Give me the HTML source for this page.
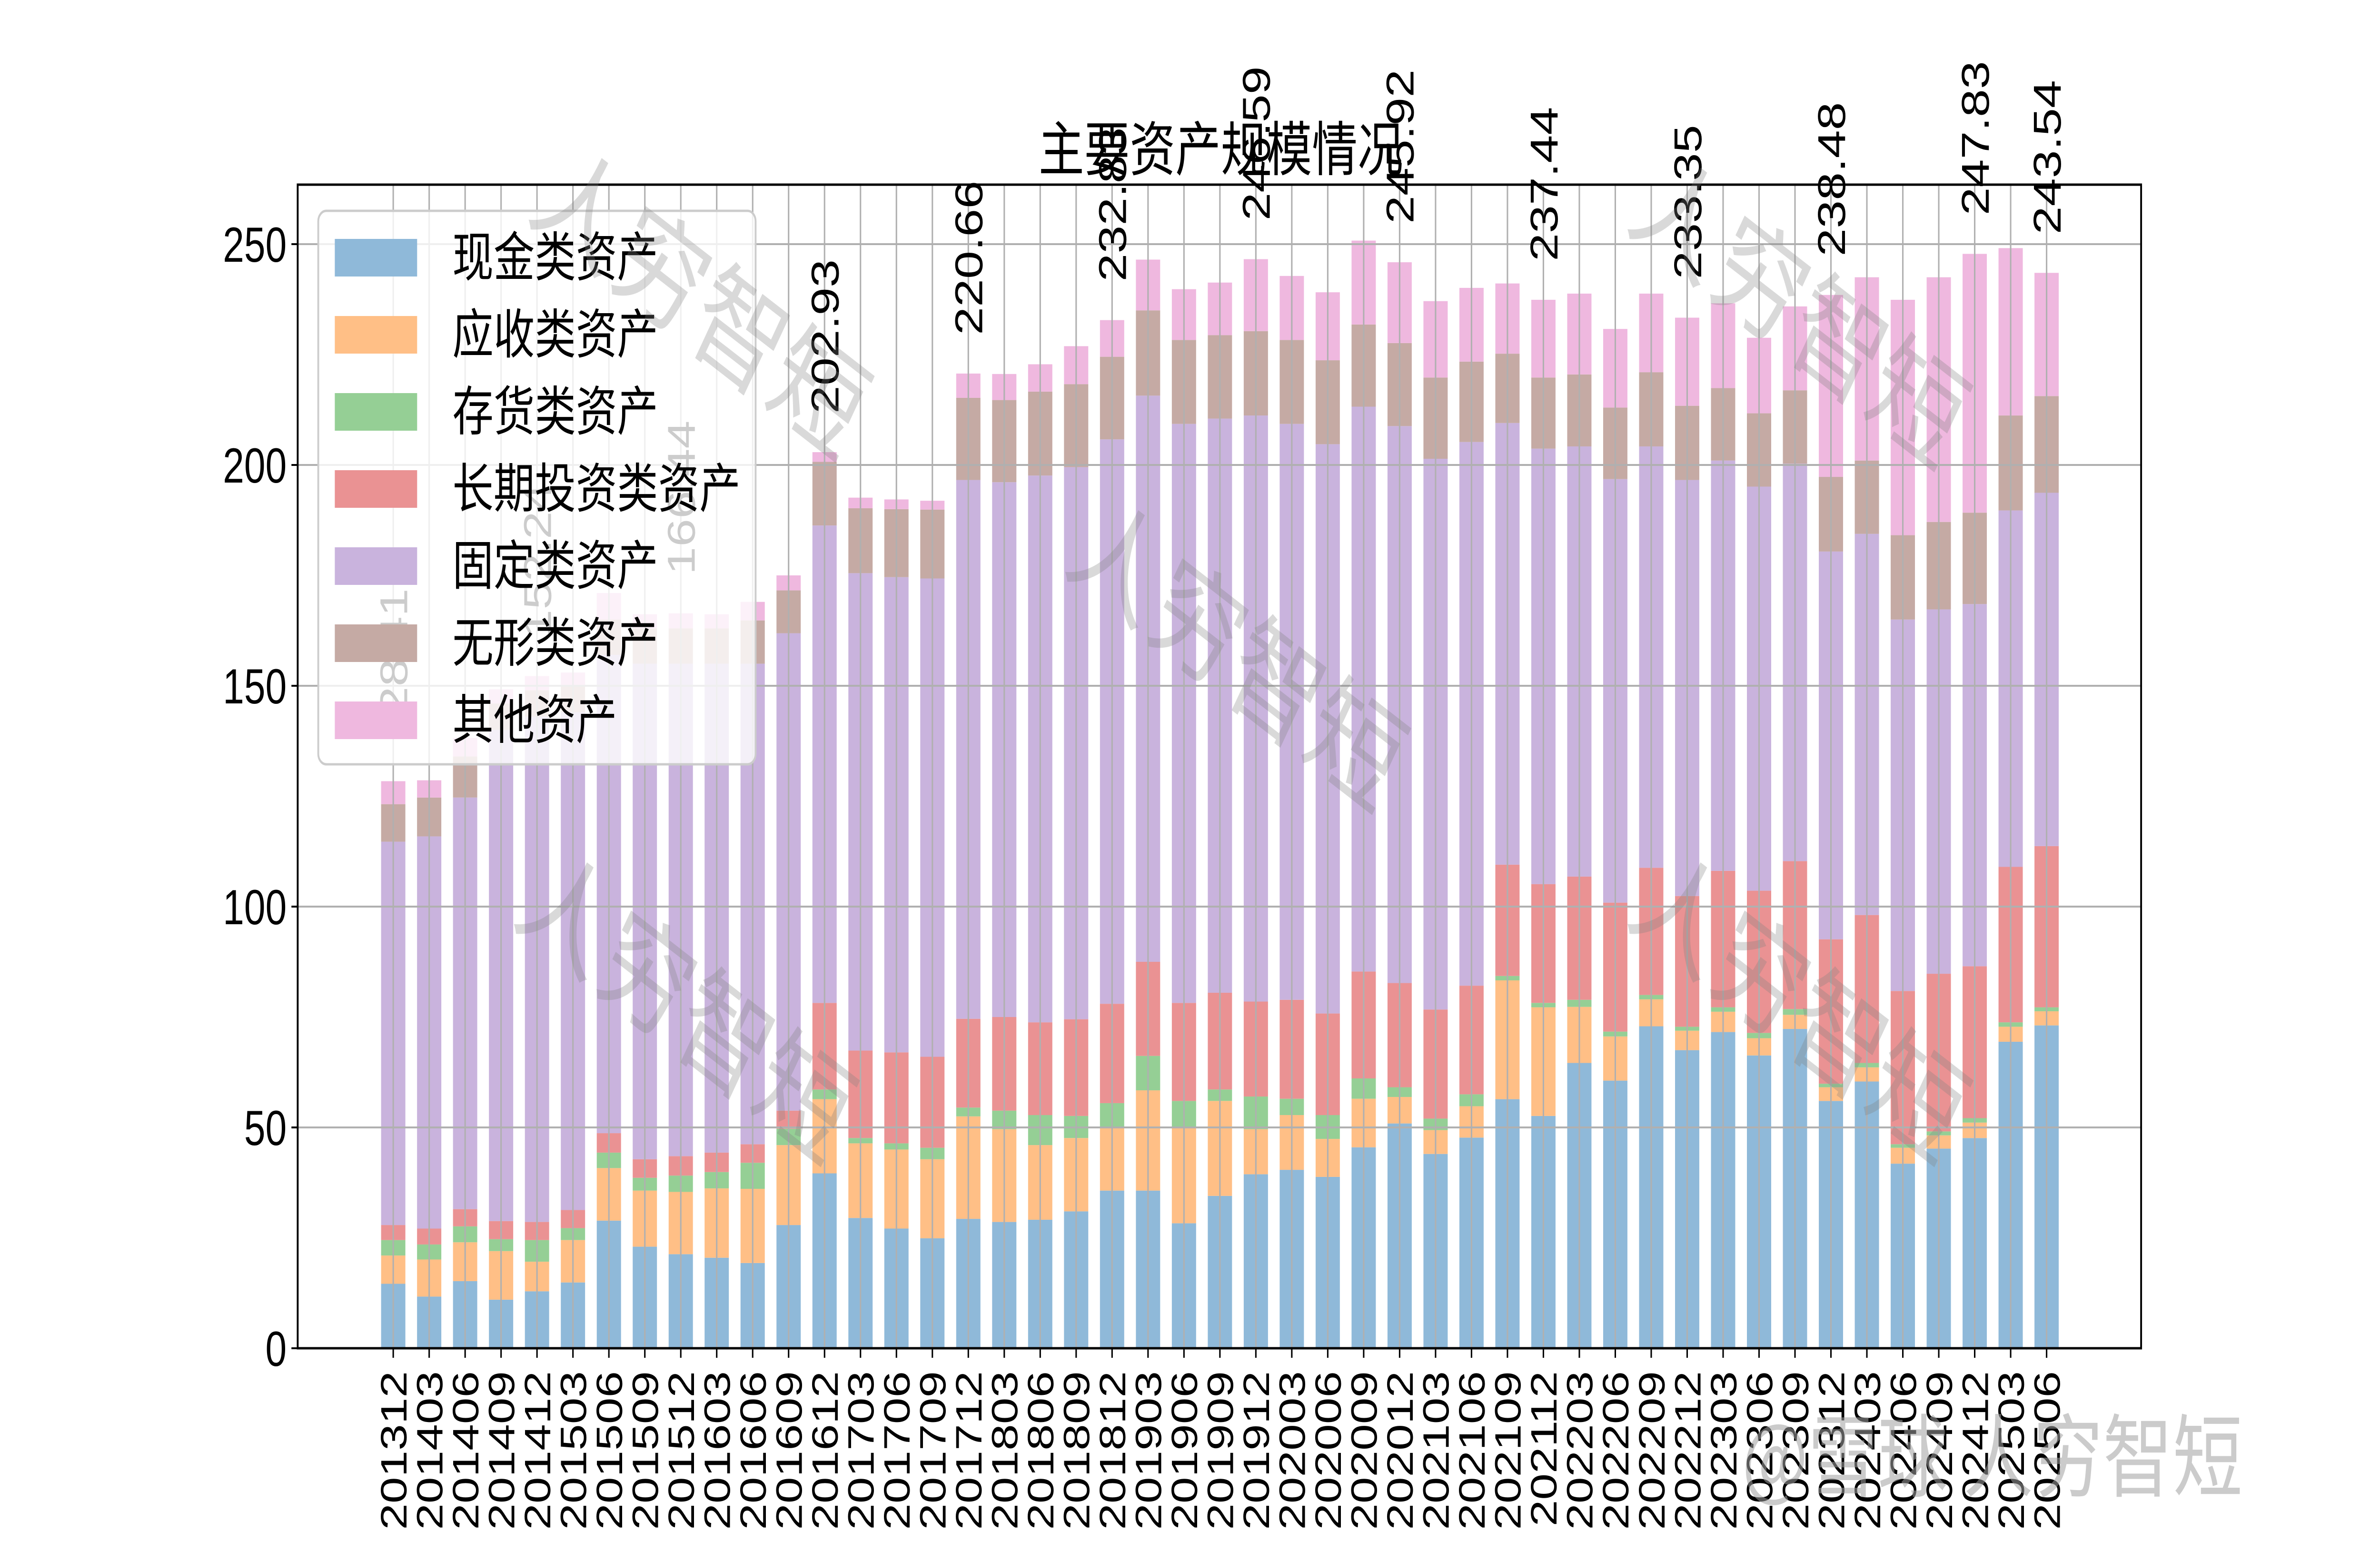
<!DOCTYPE html>
<html><head><meta charset="utf-8"><style>
html,body{margin:0;padding:0;background:#fff;width:100%;height:100%;overflow:hidden;}
svg{display:block;position:absolute;left:0;top:0;width:100vw;height:100vh;}
</style></head><body>
<svg id="chart" xmlns="http://www.w3.org/2000/svg" viewBox="0 0 6476 3238" preserveAspectRatio="none" overflow="hidden">
<rect x="0" y="0" width="6476" height="3238" fill="#fff"/>
<g id="bars"></g>
<g id="grid"></g>
<g id="axes"></g>
<g id="vlabels"></g>
<text x="3322" y="358" text-anchor="middle" font-family="'Liberation Sans','Noto Sans CJK SC',sans-serif" font-size="124" fill="#000">主要资产规模情况</text>
<g id="legend"></g>
<g id="wm"></g>
</svg>
<script>
const categories=["201312","201403","201406","201409","201412","201503","201506","201509","201512","201603","201606","201609","201612","201703","201706","201709","201712","201803","201806","201809","201812","201903","201906","201909","201912","202003","202006","202009","202012","202103","202106","202109","202112","202203","202206","202209","202212","202303","202306","202309","202312","202403","202406","202409","202412","202503","202506"];
const seriesNames=["现金类资产","应收类资产","存货类资产","长期投资类资产","固定类资产","无形类资产","其他资产"];
const cashAssets=[14.6,11.7,15.2,11.0,12.9,14.9,28.9,23.0,21.3,20.5,19.3,27.9,39.6,29.5,27.1,24.9,29.3,28.6,29.1,31.0,35.7,35.7,28.3,34.5,39.4,40.4,38.8,45.5,50.9,44.0,47.7,56.4,52.6,64.6,60.6,72.9,67.5,71.6,66.3,72.3,56.0,60.4,41.8,45.2,47.6,69.4,73.1];
const receivableAssets=[6.4,8.4,8.8,11.0,6.7,9.6,11.9,12.7,14.1,15.7,16.8,18.1,16.8,16.9,17.9,17.9,23.2,21.0,16.9,16.6,14.4,22.7,21.8,21.5,10.2,12.4,8.6,11.0,6.0,5.4,7.1,26.9,24.6,12.7,10.0,6.1,4.4,4.6,3.9,3.2,3.1,3.2,3.6,3.0,3.5,3.4,3.2];
const inventoryAssets=[3.5,3.4,3.6,2.7,4.9,2.7,3.5,2.9,3.7,3.7,5.9,3.7,2.2,1.2,1.4,2.6,2.0,4.2,6.8,5.0,5.4,7.8,5.9,2.6,7.4,3.7,5.4,4.6,2.2,2.6,2.7,1.0,1.0,1.6,1.1,1.0,0.9,1.0,1.2,1.3,0.8,1.0,0.8,0.9,1.0,1.0,0.9];
const longTermInvestAssets=[3.4,3.6,3.9,4.1,4.1,4.1,4.4,4.2,4.4,4.4,4.2,4.1,19.6,19.8,20.6,20.6,20.1,21.2,21.0,21.9,22.5,21.3,22.2,21.9,21.5,22.4,23.0,24.2,23.6,24.7,24.6,25.2,26.9,27.9,29.2,28.8,29.6,30.9,32.2,33.5,32.7,33.5,34.7,35.7,34.4,35.2,36.5];
const fixedAssets=[86.8,88.8,93.2,111.2,114.4,112.7,108.3,112.2,111.5,110.7,108.8,108.1,108.1,108.1,107.6,108.3,122.0,121.1,123.8,125.0,127.8,128.2,131.1,130.0,132.7,130.4,128.9,127.9,126.1,124.7,123.1,100.0,98.6,97.4,95.9,95.4,94.2,92.9,91.5,90.0,87.8,86.3,84.1,82.5,82.0,80.7,80.0];
const intangibleAssets=[8.5,8.8,9.3,6.0,6.0,6.0,8.0,8.0,8.0,8.0,9.8,9.7,14.4,14.7,15.4,15.6,18.6,18.6,19.0,18.8,18.7,19.3,19.0,18.9,19.1,19.0,19.0,18.6,18.8,18.4,18.2,15.7,16.1,16.3,16.2,16.8,16.8,16.4,16.6,16.6,16.9,16.6,19.1,19.8,20.7,21.5,21.9];
const otherAssets=[5.2,3.9,4.2,3.2,3.2,3.0,6.0,3.2,3.4,3.2,4.2,3.4,2.2,2.4,2.2,2.0,5.5,5.9,6.2,8.6,8.3,11.5,11.5,11.9,16.3,14.5,15.4,19.0,18.3,17.3,16.7,15.9,17.6,18.3,17.8,17.8,19.95,19.2,17.1,19.0,41.2,41.5,53.3,55.4,58.6,37.9,27.9];
const labelCategories=["201312","201412","201512","201612","201712","201812","201912","202012","202112","202212","202312","202412","202506"];
const labelTexts=["128.41","152.24","166.44","202.93","220.66","232.83","246.59","245.92","237.44","233.35","238.48","247.83","243.54"];
const yTicks=[0,50,100,150,200,250];

const NS="http://www.w3.org/2000/svg";
const colors=["#8fb9d9","#ffbf86","#95cf95","#ea9293","#c9b3dd","#c5aaa4","#efb8df"];
const series=[cashAssets,receivableAssets,inventoryAssets,longTermInvestAssets,fixedAssets,intangibleAssets,otherAssets];
const segNames=["cash","receivable","inventory","long-term-invest","fixed","intangible","other"];
const L=810,R=5826,T=388,B=2833;
function yScale(v){return B-v*9.28;}
function xScale(i){return 1070+i*97.8;}
const bw=66;
function mk(tag,attrs,parent){const e=document.createElementNS(NS,tag);for(const k in attrs)e.setAttribute(k,attrs[k]);parent.appendChild(e);return e;}
const FONT="'Liberation Sans','Noto Sans CJK SC',sans-serif";

const gb=document.getElementById('bars');
const totals=[];
categories.forEach((c,i)=>{
  let acc=0;
  series.forEach((s,k)=>{
    const v=s[i];
    const r=mk('rect',{x:xScale(i)-bw/2,y:yScale(acc+v),width:bw,height:v*9.28,fill:colors[k]},gb);
    
    
    acc+=v;
  });
  totals.push(acc);
});

const gg=document.getElementById('grid');
yTicks.forEach(t=>{
  const l=mk('line',{x1:L,x2:R,y1:yScale(t),y2:yScale(t),stroke:'#b0b0b0','stroke-width':4},gg);
  
  
});
categories.forEach((c,i)=>{
  const l=mk('line',{x1:xScale(i),x2:xScale(i),y1:T,y2:B,stroke:'#b0b0b0','stroke-width':4},gg);
  
  
});

const ga=document.getElementById('axes');
const frame=mk('rect',{x:L,y:T,width:R-L,height:B-T,fill:'none',stroke:'#000','stroke-width':5},ga);


yTicks.forEach(t=>{
  const l=mk('line',{x1:L-17,x2:L,y1:yScale(t),y2:yScale(t),stroke:'#000','stroke-width':4},ga);
  
  
  const tx=mk('text',{x:L-30,y:yScale(t)+37,'text-anchor':'end','font-family':FONT,'font-size':104,fill:'#000'},ga);
  tx.textContent=String(t);
  
  
});
categories.forEach((c,i)=>{
  const x=xScale(i);
  const l=mk('line',{x1:x,x2:x,y1:B,y2:B+20,stroke:'#000','stroke-width':4},ga);
  
  
  const tx=mk('text',{x:0,y:0,'text-anchor':'end','font-family':FONT,'font-size':100,fill:'#000',transform:`translate(${x+36},${B+48}) rotate(-90)`},ga);
  tx.textContent=c;
  
  
});

const gv=document.getElementById('vlabels');
labelCategories.forEach((c,j)=>{
  const i=categories.indexOf(c);
  const x=xScale(i);
  const y=yScale(totals[i])-81;
  const tx=mk('text',{x:0,y:0,'text-anchor':'start','font-family':FONT,'font-size':106,fill:'#000',transform:`translate(${x+38},${y}) rotate(-90)`},gv);
  tx.textContent=labelTexts[j];
  
  
});

const lg=document.getElementById('legend');
const box=mk('rect',{x:866,y:443,width:1190,height:1163,rx:22,ry:22,fill:'#fff','fill-opacity':0.8,stroke:'#cccccc','stroke-width':5},lg);


seriesNames.forEach((n,k)=>{
  const y=502+k*162;
  const p=mk('rect',{x:911,y:y,width:224,height:79,fill:colors[k]},lg);
  
  
  const t=mk('text',{x:1231,y:y+78,'font-family':FONT,'font-size':112,fill:'#000'},lg);
  t.textContent=n;
  
  
});

const wm=document.getElementById('wm');
[[1860,620],[3320,1360],[1820,2100],[4850,640],[4850,2100]].forEach((p,k)=>{
  const t=mk('text',{x:0,y:0,'text-anchor':'middle','font-family':"'Noto Sans CJK SC',sans-serif",'font-size':250,fill:'#808080','fill-opacity':0.3,transform:`translate(${p[0]},${p[1]+90}) rotate(31)`},wm);
  t.textContent='人穷智短';
  
  
});
const bw2=mk('text',{x:4740,y:3130,'font-family':"'Noto Sans CJK SC',sans-serif",'font-size':190,fill:'#a0a0a0','fill-opacity':0.55},wm);
bw2.textContent='@雪球 人穷智短';


</script>
</body></html>
